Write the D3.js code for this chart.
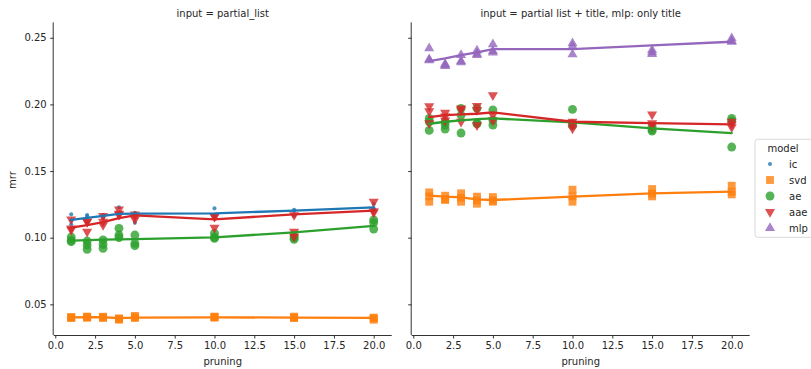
<!DOCTYPE html>
<html>
<head>
<meta charset="utf-8">
<script src="https://cdn.jsdelivr.net/npm/d3@7"></script>
<style>
  body { margin: 0; background: #fff; }
  text { font-family: "DejaVu Sans", sans-serif; }
</style>
</head>
<body>
<script>
// pruning levels on the x axis
var pruning = [1, 2, 3, 4, 5, 10, 15, 20];
var models = ["ic", "svd", "ae", "aae", "mlp"];
var colors = ["#1f77b4", "#ff7f0e", "#2ca02c", "#d62728", "#9467bd"];
var yTicks = [0.05, 0.10, 0.15, 0.20, 0.25];
var xTicks = [0, 2.5, 5, 7.5, 10, 12.5, 15, 17.5, 20];
var titles = ["input = partial_list", "input = partial list + title, mlp: only title"];

// left panel, scatter values per pruning level
var icLeft = [[0.1175,0.113,0.110],[0.1113,0.116,0.117],[0.116,0.115,0.117],[0.1228,0.116,0.115],[0.1187,0.1113,0.118],[0.122,0.117,0.116],[0.1163,0.120,0.121],[0.1253,0.122,0.121]];
var svdLeft = [[0.0405,0.040,0.0398],[0.0408,0.040,0.0403],[0.0407,0.0398,0.0403],[0.0395,0.0385,0.039],[0.0413,0.0398,0.0403],[0.0405,0.040,0.0408],[0.0408,0.0398,0.040],[0.040,0.0385,0.0395]];
var aeLeft = [[0.1005,0.098,0.097],[0.0975,0.0945,0.0913],[0.0983,0.092,0.095],[0.107,0.102,0.100],[0.102,0.0958,0.094],[0.1033,0.1003,0.0995],[0.1013,0.0988,0.100],[0.1133,0.1113,0.1065]];
var aaeLeft = [[0.1138,0.107,0.106],[0.1045,0.112,0.112],[0.1163,0.1095,0.112],[0.1213,0.1175,0.118],[0.1175,0.1138,0.116],[0.1158,0.1075,0.116],[0.1045,0.1008,0.117],[0.127,0.119,0.120]];
// left panel, line values
var icLeftLine = [0.1133,0.1148,0.1163,0.1178,0.1180,0.1183,0.1203,0.1228];
var svdLeftLine = [0.0402,0.0403,0.0403,0.0397,0.0400,0.0402,0.0401,0.0399];
var aeLeftLine = [0.0978,0.0982,0.0985,0.0988,0.0990,0.1003,0.1040,0.1088];
var aaeLeftLine = [0.1075,0.1095,0.1116,0.1146,0.1168,0.1138,0.1175,0.1203];

// right panel, scatter values
var svdRight = [[0.134,0.131,0.127],[0.1315,0.129,0.1283],[0.1333,0.130,0.127],[0.1308,0.128,0.1255],[0.1305,0.128,0.127],[0.136,0.131,0.127],[0.1365,0.133,0.131],[0.139,0.1345,0.1325]];
var aeRight = [[0.1895,0.1805,0.187],[0.187,0.1815,0.1845],[0.197,0.192,0.1785],[0.197,0.1855,0.186],[0.1958,0.1845,0.188],[0.1963,0.1855,0.184],[0.1835,0.181,0.180],[0.1895,0.1875,0.168]];
var aaeRight = [[0.1987,0.195,0.186],[0.1938,0.191,0.188],[0.197,0.196,0.187],[0.1988,0.1958,0.1845],[0.207,0.192,0.188],[0.187,0.1845,0.182],[0.1925,0.186,0.184],[0.187,0.185,0.183]];
var mlpRight = [[0.242,0.2338,0.233],[0.2303,0.2288,0.2295],[0.237,0.2315,0.2325],[0.2403,0.237,0.238],[0.245,0.2388,0.240],[0.2458,0.2375,0.2435],[0.2408,0.2378,0.239],[0.2495,0.247,0.2475]];
// right panel, line values
var svdRightLine = [0.1315,0.1308,0.1303,0.1288,0.1283,0.1308,0.1333,0.1345];
var aeRightLine = [0.1855,0.187,0.188,0.189,0.1895,0.1865,0.182,0.1785];
var aaeRightLine = [0.1905,0.192,0.1925,0.193,0.194,0.187,0.186,0.185];
var mlpRightLine = [0.2325,0.2345,0.237,0.239,0.2415,0.2415,0.2443,0.247];

var panels = [
  { series: [
      { model: "ic", pts: icLeft, line: icLeftLine },
      { model: "svd", pts: svdLeft, line: svdLeftLine },
      { model: "ae", pts: aeLeft, line: aeLeftLine },
      { model: "aae", pts: aaeLeft, line: aaeLeftLine } ] },
  { series: [
      { model: "svd", pts: svdRight, line: svdRightLine },
      { model: "ae", pts: aeRight, line: aeRightLine },
      { model: "aae", pts: aaeRight, line: aaeRightLine },
      { model: "mlp", pts: mlpRight, line: mlpRightLine } ] }
];

var width = 811, height = 369;
var svg = d3.select("body").append("svg")
  .attr("width", width).attr("height", height);

var color = d3.scaleOrdinal().domain(models).range(colors);
var symbolOf = {
  ic: d3.symbolCircle, svd: d3.symbolSquare, ae: d3.symbolCircle,
  aae: d3.symbolTriangle, mlp: d3.symbolTriangle
};
var sizeOf = { ic: 13, svd: 62, ae: 62, aae: 44, mlp: 44 };
var rotOf = { aae: 180 };

var y = d3.scaleLinear().domain([0.027, 0.2616]).range([335, 22.3]);
var panelLeft = [53.7, 411.7];
var panelW = 338;

function marker(g, model, cx, cy, alpha) {
  g.append("path")
    .attr("d", d3.symbol().type(symbolOf[model]).size(sizeOf[model])())
    .attr("transform", "translate(" + cx + "," + cy + ")" + (rotOf[model] ? " rotate(" + rotOf[model] + ")" : ""))
    .attr("fill", color(model))
    .attr("fill-opacity", alpha);
}

panels.forEach(function(p, i) {
  var x = d3.scaleLinear().domain([-0.1, 21.13]).range([panelLeft[i], panelLeft[i] + panelW]);
  var g = svg.append("g");

  // axes
  var xAxis = d3.axisBottom(x).tickValues(xTicks).tickFormat(d3.format(".1f")).tickSize(3.5).tickPadding(3.5);
  var gx = g.append("g").attr("transform", "translate(0,335)").call(xAxis);
  var yAxis = d3.axisLeft(y).tickValues(yTicks).tickFormat(i === 0 ? d3.format(".2f") : "").tickSize(3.5).tickPadding(3.5);
  var gy = g.append("g").attr("transform", "translate(" + panelLeft[i] + ",0)").call(yAxis);
  [gx, gy].forEach(function(a) {
    a.select(".domain").attr("stroke", "#333").attr("stroke-width", 1);
    a.selectAll(".tick line").attr("stroke", "#333");
    a.selectAll(".tick text").attr("fill", "#262626").style("font-size", "10px");
  });
  gx.select(".domain").attr("d", "M" + panelLeft[i] + ",0.5H" + (panelLeft[i] + panelW));
  gy.select(".domain").attr("d", "M-0.5,335V22.3");

  // titles and labels
  g.append("text").attr("x", panelLeft[i] + panelW / 2).attr("y", 17)
    .attr("text-anchor", "middle").style("font-size", "10px").attr("fill", "#262626")
    .text(titles[i]);
  g.append("text").attr("x", panelLeft[i] + panelW / 2).attr("y", 365)
    .attr("text-anchor", "middle").style("font-size", "10px").attr("fill", "#262626")
    .text("pruning");

  // scatter points
  var pg = g.append("g");
  p.series.forEach(function(s) {
    s.pts.forEach(function(vals, k) {
      vals.forEach(function(v) {
        marker(pg, s.model, x(pruning[k]), y(v), 0.8);
      });
    });
  });

  // lines
  var line = d3.line().x(function(d, k) { return x(pruning[k]); }).y(function(d) { return y(d); });
  p.series.forEach(function(s) {
    g.append("path").datum(s.line)
      .attr("d", line)
      .attr("fill", "none")
      .attr("stroke", color(s.model))
      .attr("stroke-width", 2.3)
      .attr("stroke-linecap", "round");
  });
});

// y label
svg.append("text").attr("transform", "translate(16,180) rotate(-90)")
  .attr("text-anchor", "middle").style("font-size", "10px").attr("fill", "#262626")
  .text("mrr");

// legend
var lg = svg.append("g");
lg.append("rect").attr("x", 755).attr("y", 139.3).attr("width", 70).attr("height", 98)
  .attr("rx", 2.5).attr("fill", "#fff").attr("stroke", "#d0d0d0").attr("stroke-width", 0.8);
lg.append("text").attr("x", 783).attr("y", 151.5).attr("text-anchor", "middle")
  .style("font-size", "10px").attr("fill", "#262626").text("model");
models.forEach(function(m, k) {
  var cy = 164 + k * 16;
  marker(lg, m, 770, cy, 0.8);
  lg.append("text").attr("x", 789).attr("y", cy + 3.5)
    .style("font-size", "10px").attr("fill", "#262626").text(m);
});
</script>
</body>
</html>
